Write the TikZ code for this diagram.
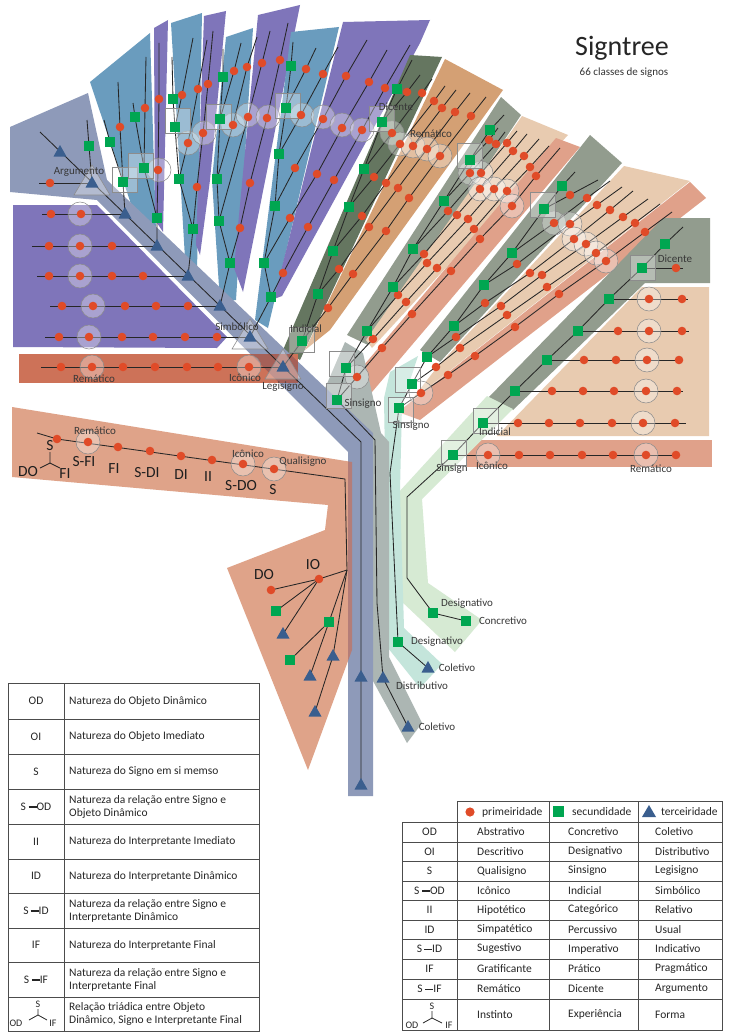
\documentclass[tikz,border=0pt]{standalone}
\usepackage{fontspec}
\setmainfont{Carlito}
\definecolor{cSlate}{RGB}{142,154,185}
\definecolor{cSteel}{RGB}{106,156,190}
\definecolor{cViolet}{RGB}{127,117,186}
\definecolor{cMoss}{RGB}{101,118,96}
\definecolor{cTan}{RGB}{212,160,116}
\definecolor{cSage}{RGB}{146,156,142}
\definecolor{cPeach}{RGB}{232,203,176}
\definecolor{cSalmon}{RGB}{224,161,138}
\definecolor{cRow}{RGB}{205,114,88}
\definecolor{cRowDark}{RGB}{165,96,88}
\definecolor{cClay}{RGB}{223,163,137}
\definecolor{cClayDark}{RGB}{180,125,120}
\definecolor{cMint}{RGB}{196,229,219}
\definecolor{cPale}{RGB}{214,234,211}
\definecolor{cAsh}{RGB}{172,182,179}
\definecolor{cDot}{RGB}{224,75,40}
\definecolor{cSq}{RGB}{0,166,81}
\definecolor{cTri}{RGB}{58,94,142}
\newcommand\mydash{\rule[2.6pt]{8pt}{1.3pt}}
\begin{document}
\begin{tikzpicture}[x=1pt,y=-1pt,
  ln/.style={line width=0.85pt,draw=black!85,line join=round},
  hc/.style={fill=white,fill opacity=0.33,draw=black!45,line width=0.55pt},
  lab/.style={font=\fontsize{11}{12}\selectfont,text=black!78,inner sep=0pt},
  big/.style={font=\fontsize{15.5}{16}\selectfont,text=black!88,inner sep=0pt},
  tt/.style={font=\fontsize{11.5}{13}\selectfont,text=black!85,inner sep=0pt,align=left,anchor=west},
  tc/.style={font=\fontsize{11.5}{13}\selectfont,text=black!85,inner sep=0pt},
  sm/.style={font=\fontsize{10}{10}\selectfont,text=black!85,inner sep=0pt},
  tab/.style={line width=0.9pt,draw=black!70}]
\useasboundingbox (0,0) rectangle (728,1033);
\fill[white] (0,0) rectangle (728,1033);

% ---------- coloured bands ----------
\fill[cClay] (12,407) -- (352,462) -- (352,650) -- (308,770) -- (227,568) -- (325,530) -- (328,505) -- (12,477) -- cycle;
\fill[cViolet] (13,205) -- (97,205) -- (227,337) -- (217,348) -- (13,347) -- cycle;
\fill[cSteel] (90,82) -- (150,33) -- (156,232) -- (132,207) -- cycle;
\fill[cViolet] (154,28) -- (168,20) -- (163,232) -- (155,220) -- cycle;
\fill[cSteel] (171,23) -- (202,13) -- (197,272) -- (186,275) -- cycle;
\fill[cViolet] (204,16) -- (226,11) -- (210,180) -- (200,255) -- (196,245) -- cycle;
\fill[cSteel] (226,37) -- (253,28) -- (236,300) -- (220,302) -- (212,180) -- cycle;
\fill[cViolet] (258,15) -- (300,5) -- (292,45) -- (243,292) -- (234,268) -- cycle;
\fill[cSteel] (291,32) -- (339,27) -- (268,328) -- (255,320) -- cycle;
\fill[cViolet] (343,22) -- (430,20) -- (420,43) -- (282,296) -- (274,299) -- cycle;
\fill[cMoss] (410,55) -- (442,57) -- (300,360) -- (283,350) -- cycle;
\fill[cTan] (445,59) -- (503,90) -- (330,330) -- (305,350) -- cycle;
\fill[cSage] (501,97) -- (521,115) -- (368,345) -- (347,335) -- cycle;
\fill[cPeach] (522,116) -- (568,135) -- (372,348) -- (366,340) -- cycle;
\fill[cSalmon] (556,138) -- (580,147) -- (372,392) -- (348,384) -- cycle;
\fill[cSage] (590,135) -- (622,163) -- (440,362) -- (420,350) -- cycle;
\fill[cPeach] (624,166) -- (690,181) -- (410,402) -- (438,366) -- cycle;
\fill[cSalmon] (690,182) -- (706,198) -- (420,420) -- (398,412) -- cycle;
\fill[cSage] (663,218) -- (710,218) -- (710,283) -- (645,283) -- (513,410) -- (488,398) -- cycle;
\fill[cPeach] (642,287) -- (709,287) -- (709,436) -- (497,436) -- cycle;
\fill[cSalmon] (467,440) rectangle (712,467);
\fill[cPale] (487,396) -- (513,409) -- (422,499) -- (428,583) -- (482,620) -- (455,652) -- (400,600) -- (398,493) -- cycle;
\fill[cMint] (384,398) -- (390,372) -- (418,356) -- (402,405) -- (400,490) -- (404,628) -- (442,664) -- (420,688) -- (388,648) -- cycle;
\fill[cAsh] (345,342) -- (363,353) -- (381,433) -- (389,442) -- (389,657) -- (422,723) -- (407,743) -- (373,681) -- (373,440) -- (323,393) -- cycle;
\fill[cSlate] (10,127) -- (88,93) -- (107,180) -- (373,433) -- (373,796) -- (348,796) -- (348,452) -- (97,200) -- (10,192) -- cycle;
\fill[cRow] (19,354) rectangle (298,383);
\begin{scope}
  \clip (10,127) -- (88,93) -- (107,180) -- (373,433) -- (373,796) -- (348,796) -- (348,452) -- (97,200) -- (10,192) -- cycle;
  \fill[cRowDark] (19,354) rectangle (298,383);
  \fill[cClayDark] (12,407) -- (352,462) -- (352,650) -- (308,770) -- (227,568) -- (325,530) -- (328,505) -- (12,477) -- cycle;
\end{scope}

% ---------- trunk and horizontal rows ----------
\draw[ln] (361,785) -- (361,442) -- (40,132);
\draw[ln] (39,183) -- (92,183);
\draw[ln] (42,214) -- (125,214);
\draw[ln] (32,246) -- (157,246);
\draw[ln] (37,276) -- (188,276);
\draw[ln] (50,306) -- (220,306);
\draw[ln] (45,337) -- (250,337);
\draw[ln] (41,367) -- (283,367);

% ---------- upper-left fans ----------
\draw[ln] (92,183) -- (89,146) -- (87,120);
\draw[ln] (125,214) -- (123,182) -- (110,142) -- (104,120);
\draw[ln] (123,182) -- (120,127) -- (118,82);
\draw[ln] (157,246) -- (157,218) -- (158,170) -- (159,99) -- (159,43);
\draw[ln] (157,218) -- (144,168) -- (145,108) -- (146,57);
\draw[ln] (144,168) -- (135,117) -- (133,103);
\draw[ln] (188,276) -- (193,229) -- (197,187) -- (203,133) -- (208,84) -- (213,31);
\draw[ln] (193,229) -- (179,179) -- (188,143) -- (198,89) -- (207,40);
\draw[ln] (179,179) -- (175,127) -- (173,99) -- (172,57);
\draw[ln] (175,127) -- (182,95) -- (193,38);
\draw[ln] (220,306) -- (230,263) -- (219,221) -- (217,179) -- (220,119) -- (223,77) -- (223,49);
\draw[ln] (230,263) -- (240,228) -- (250,183) -- (267,118) -- (280,60) -- (288,23);
\draw[ln] (219,221) -- (248,117) -- (262,63) -- (270,31);
\draw[ln] (217,179) -- (233,125) -- (247,67) -- (257,37);
\draw[ln] (220,119) -- (234,71) -- (241,43);
\draw[ln] (250,337) -- (271,297) -- (264,263) -- (275,206) -- (279,154) -- (286,108) -- (291,66) -- (293,42);
\draw[ln] (271,297) -- (283,273) -- (308,227) -- (334,180) -- (362,130) -- (385,88) -- (410,45);
\draw[ln] (264,263) -- (290,218) -- (317,174) -- (342,128) -- (369,82) -- (387,50);
\draw[ln] (275,206) -- (295,168) -- (323,119) -- (346,76) -- (367,40);
\draw[ln] (279,154) -- (301,115) -- (323,74) -- (338,47);
\draw[ln] (286,108) -- (306,69) -- (316,48);

% ---------- Indicial fan ----------
\draw[ln] (283,367) -- (302,341) -- (318,294) -- (333,251) -- (349,207) -- (364,169) -- (382,122) -- (397,89) -- (412,60);
\draw[ln] (302,341) -- (328,308) -- (353,274) -- (386,231) -- (409,198) -- (440,156) -- (471,116) -- (486,97);
\draw[ln] (318,294) -- (339,269) -- (369,227) -- (398,188) -- (427,149) -- (455,112) -- (470,93);
\draw[ln] (333,251) -- (362,216) -- (386,183) -- (413,146) -- (442,108) -- (456,90);
\draw[ln] (349,207) -- (374,177) -- (400,144) -- (434,101) -- (445,86);
\draw[ln] (364,169) -- (392,133) -- (422,93) -- (432,79);
\draw[ln] (382,122) -- (407,92) -- (420,75);

% ---------- first Sinsigno branch ----------
\draw[ln] (337,400) -- (375,440) -- (377,603) -- (383,678) -- (408,727);
\draw[ln] (337,400) -- (346,368) -- (367,331) -- (393,287) -- (413,249) -- (444,201) -- (470,160) -- (490,130) -- (504,115);
\draw[ln] (337,400) -- (357,377) -- (382,348) -- (412,314) -- (451,271) -- (480,239) -- (512,206) -- (536,176) -- (560,148);
\draw[ln] (346,368) -- (373,339) -- (406,302) -- (437,268) -- (474,229) -- (507,191) -- (530,167) -- (549,146);
\draw[ln] (367,331) -- (398,295) -- (427,263) -- (468,219) -- (494,189) -- (524,156) -- (539,139);
\draw[ln] (393,287) -- (424,254) -- (457,215) -- (480,189) -- (513,151) -- (527,134);
\draw[ln] (413,249) -- (448,211) -- (481,173) -- (507,143) -- (517,131);
\draw[ln] (444,201) -- (470,173) -- (496,144) -- (505,132);
\draw[ln] (470,160) -- (489,140) -- (498,128);

% ---------- second Sinsigno branch ----------
\draw[ln] (399,408) -- (390,473) -- (398,642) -- (428,668);
\draw[ln] (399,408) -- (412,384) -- (427,357) -- (454,326) -- (484,285) -- (512,253) -- (544,209) -- (562,186) -- (575,172);
\draw[ln] (399,408) -- (421,393) -- (448,375) -- (475,356) -- (515,327) -- (559,294) -- (606,261) -- (645,232) -- (672,212);
\draw[ln] (412,384) -- (436,367) -- (460,348) -- (507,315) -- (547,287) -- (596,253) -- (635,223) -- (660,204);
\draw[ln] (427,357) -- (456,337) -- (501,306) -- (542,275) -- (586,244) -- (623,217) -- (648,199);
\draw[ln] (454,326) -- (485,303) -- (530,273) -- (574,239) -- (610,210) -- (633,191);
\draw[ln] (484,285) -- (517,264) -- (570,224) -- (597,205) -- (622,187);
\draw[ln] (512,253) -- (554,223) -- (587,198) -- (610,181);
\draw[ln] (544,209) -- (570,195) -- (598,180);

% ---------- third Sinsigno branch ----------
\draw[ln] (453,455) -- (407,497) -- (407,578) -- (433,613) -- (466,621);
\draw[ln] (453,455) -- (483,423) -- (515,391) -- (547,360) -- (578,331) -- (609,299) -- (642,268) -- (665,244) -- (683,227);
\draw[ln] (453,455) -- (678,455);
\draw[ln] (483,423) -- (686,423);
\draw[ln] (515,391) -- (683,391);
\draw[ln] (547,360) -- (683,360);
\draw[ln] (578,331) -- (689,331);
\draw[ln] (609,299) -- (688,299);
\draw[ln] (642,268) -- (683,268);

% ---------- Qualisigno branch ----------
\draw[ln] (37,433) -- (57,439) -- (345,479) -- (347,570);
\draw[ln] (347,570) -- (319,579) -- (271,590);
\draw[ln] (319,579) -- (276,611);
\draw[ln] (319,579) -- (283,634);
\draw[ln] (347,570) -- (329,622) -- (290,660);
\draw[ln] (329,622) -- (310,676);
\draw[ln] (347,570) -- (333,656) -- (315,712);

% ---------- translucent highlights ----------
\foreach \x/\y in {80/214,80/246,80/276,93/306,89/337,92/367,249/367,
  159/170,188/143,204/133,233/125,248/115,268/117,302/115,323/117,342/125,362/130,
  392/133,400/144,413/146,427/149,440/156,
  470/173,481/173,480/189,494/189,507/191,512/206,357/377,
  554/223,570/224,574/239,586/244,596/253,606/261,421/393,
  488/455,646/455,643/423,646/391,647/360,649/331,649/299,
  88/442,243/464,274/469}
  \draw[hc] (\x,\y) circle (12pt);
\foreach \x/\y in {125/180,141/166,178/121,219/117,288/106,302/340,342/364,382/119,
  470/156,543/205,643/268,339/396,408/380,401/410,486/421,454/453}
  \draw[hc] (\x-12.5,\y-12.5) rectangle (\x+12.5,\y+12.5);
\foreach \x/\y in {92/183,250/337,283/367}
  \draw[hc] (\x,\y-18) -- (\x+18,\y+12) -- (\x-18,\y+12) -- cycle;

% ---------- markers: firstness ----------
\foreach \x/\y in {50/183,51/214,81/214,49/246,80/246,112/246,49/276,80/276,112/276,143/276,
  62/306,93/306,125/306,156/306,188/306,59/337,89/337,122/337,153/337,185/337,217/337,
  61/367,92/367,123/367,155/367,187/367,218/367,249/367,
  120/127,158/170,159/99,145/108,197/187,203/133,208/84,188/143,198/89,182/95,
  240/228,250/183,267/118,280/60,248/117,262/63,233/125,247/67,234/71,
  283/273,308/227,334/180,362/130,385/88,290/218,317/174,342/128,369/82,
  295/168,323/119,346/76,301/115,323/74,306/69,
  328/308,353/274,386/231,409/198,440/156,471/116,339/269,369/227,398/188,427/149,455/112,
  362/216,386/183,413/146,442/108,374/177,400/144,434/101,392/133,422/93,407/92,
  357/377,382/348,412/314,451/271,480/239,512/206,536/176,373/339,406/302,437/268,474/229,
  507/191,530/167,398/295,427/263,468/219,494/189,524/156,424/254,457/215,480/189,513/151,
  448/211,481/173,507/143,470/173,496/144,489/140,
  421/393,448/375,475/356,515/327,559/294,606/261,645/232,436/367,460/348,507/315,547/287,
  596/253,635/223,456/337,501/306,542/275,586/244,623/217,485/303,530/273,574/239,610/210,
  517/264,570/224,597/205,554/223,587/198,570/195,
  488/455,519/455,550/455,582/455,613/455,646/455,676/455,518/423,549/423,580/423,612/423,
  643/423,675/423,552/391,583/391,614/391,646/391,677/391,584/360,616/360,647/360,679/360,
  618/331,649/331,682/331,649/299,682/299,676/268,
  57/439,88/442,118/447,150/451,181/456,212/460,243/464,274/469,319/579,271/590}
  \fill[cDot] (\x,\y) circle (4.3pt);

% ---------- markers: secondness ----------
\foreach \x/\y in {89/146,123/182,110/142,157/218,144/168,135/117,193/229,179/179,175/127,173/99,
  230/263,219/221,217/179,220/119,223/77,271/297,264/263,275/206,279/154,286/108,291/66,
  302/341,318/294,333/251,349/207,364/169,382/122,397/89,
  337/400,346/368,367/331,393/287,413/249,444/201,470/160,490/130,
  399/408,398/642,412/384,427/357,454/326,484/285,512/253,544/209,562/186,
  453/455,483/423,515/391,547/360,578/331,609/299,642/268,665/244,433/613,466/621,
  276/611,329/622,290/660}
  \fill[cSq] (\x-5,\y-5) rectangle (\x+5,\y+5);

% ---------- markers: thirdness ----------
\foreach \x/\y in {60/152,92/183,125/214,157/246,188/276,220/306,250/337,283/367,
  361/677,361/785,383/678,408/727,428/668,283/634,310/676,333/656,315/712}
  \fill[cTri] (\x,\y-7) -- (\x+6.5,\y+4.5) -- (\x-6.5,\y+4.5) -- cycle;

% ---------- labels ----------
\node[lab] (lArg) at (79,172) {Argumento};
\node[lab] (lSimb) at (237,327) {Simbólico};
\node[lab] (lIco1) at (245,378) {Icônico};
\node[lab] (lRem1) at (94,379) {Remático};
\node[lab] (lLeg) at (283,387) {Legisigno};
\node[lab] (lInd1) at (306,329) {Indicial};
\node[lab] (lDic1) at (396,107) {Dicente};
\node[lab] (lRem2) at (431,134) {Remático};
\node[lab] (lSin1) at (363,404) {Sinsigno};
\node[lab] (lSin2) at (411,426) {Sinsigno};
\node[lab] (lDic2) at (675,259) {Dicente};
\node[lab] (lInd2) at (495,432) {Indicial};
\node[lab] (lSin3) at (452,469) {Sinsign};
\node[lab] (lIco2) at (492,466) {Icônico};
\node[lab] (lRem3) at (651,469) {Remático};
\node[lab] (lDes1) at (467,604) {Designativo};
\node[lab] (lCon) at (503,621) {Concretivo};
\node[lab] (lDes2) at (437,642) {Designativo};
\node[lab] (lCol1) at (457,668) {Coletivo};
\node[lab] (lDis) at (422,686) {Distributivo};
\node[lab] (lCol2) at (437,727) {Coletivo};
\node[lab] (lRem4) at (95,431) {Remático};
\node[lab] (lIco3) at (248,454) {Icônico};
\node[lab] (lQua) at (303,462) {Qualisigno};

\node[big] (bSFI) at (84,462) {S-FI};
\node[big] (bFI) at (114,469) {FI};
\node[big] (bSDI) at (147,473) {S-DI};
\node[big] (bDI) at (181,475) {DI};
\node[big] (bII) at (208,477) {II};
\node[big] (bSDO) at (241,486) {S-DO};
\node[big] (bS) at (273,490) {S};
\node[big] (bDO) at (264,575) {DO};
\node[big] (bIO) at (313,565) {IO};
\node[big] (yS) at (50,445.5) {S};
\node[big] (yDO) at (28,472) {DO};
\node[big] (yFI) at (65,474) {FI};
\draw[line width=0.9pt,black!85] (50,452) -- (50,463) -- (40,468);
\draw[line width=0.9pt,black!85] (50,463) -- (60,468);

\node[inner sep=0pt,text=black!85,font=\fontsize{28}{30}\selectfont] (title) at (622,48) {Signtree};
\node[inner sep=0pt,text=black!80,font=\fontsize{11}{12}\selectfont] (subtitle) at (624,73) {66 classes de signos};

% ---------- left table ----------
\draw[tab] (8,683) rectangle (259,1031);
\draw[tab] (64,683) -- (64,1031);
\foreach \y in {719,754,789,824,859,893,928,962,997} \draw[tab] (8,\y) -- (259,\y);
\node[tc] (k1) at (36,701) {OD};
\node[tc] (k2) at (36,736.5) {OI};
\node[tc] (k3) at (36,771.5) {S};
\node[tc] (k4) at (36,806.5) {S \mydash OD};
\node[tc] (k5) at (36,841.5) {II};
\node[tc] (k6) at (36,876) {ID};
\node[tc] (k7) at (36,910.5) {S\,\mydash ID};
\node[tc] (k8) at (36,945) {IF};
\node[tc] (k9) at (36,979.5) {S \mydash IF};
\node[sm] (kS) at (38,1004) {S};
\node[sm] (kOD) at (16,1023) {OD};
\node[sm] (kIF) at (53,1023) {IF};
\draw[line width=0.8pt,black!85] (38,1009) -- (38,1015) -- (29,1020);
\draw[line width=0.8pt,black!85] (38,1015) -- (47,1020);
\node[tt] (d1) at (69,701) {Natureza do Objeto Dinâmico};
\node[tt] (d2) at (69,736.5) {Natureza do Objeto Imediato};
\node[tt] (d3) at (69,771.5) {Natureza do Signo em si memso};
\node[tt] (d4) at (69,806.5) {Natureza da relação entre Signo e\\Objeto Dinâmico};
\node[tt] (d5) at (69,841.5) {Natureza do Interpretante Imediato};
\node[tt] (d6) at (69,876) {Natureza do Interpretante Dinâmico};
\node[tt] (d7) at (69,910.5) {Natureza da relação entre Signo e\\Interpretante Dinâmico};
\node[tt] (d8) at (69,945) {Natureza do Interpretante Final};
\node[tt] (d9) at (69,979.5) {Natureza da relação entre Signo e\\Interpretante Final};
\node[tt] (d10) at (69,1014) {Relação triádica entre Objeto\\Dinâmico, Signo e Interpretante Final};

% ---------- right table ----------
\draw[tab] (457,801) rectangle (722,822);
\draw[tab] (402,822) rectangle (722,1030);
\foreach \x in {457,549,638} \draw[tab] (\x,801) -- (\x,1030);
\foreach \y in {842,861,881,900,920,939,959,979,999} \draw[tab] (402,\y) -- (722,\y);
\fill[cDot] (470,812) circle (4.6pt);
\fill[cSq] (553,806) rectangle (564,817);
\fill[cTri] (649,805) -- (656,817) -- (642,817) -- cycle;
\node[tt] (h1) at (482,812) {primeiridade};
\node[tt] (h2) at (572,812) {secundidade};
\node[tt] (h3) at (661,812) {terceiridade};
\node[tc] (r1) at (429.5,832) {OD};
\node[tc] (r2) at (429.5,851.5) {OI};
\node[tc] (r3) at (429.5,871) {S};
\node[tc] (r4) at (429.5,890.5) {S \mydash OD};
\node[tc] (r5) at (429.5,910) {II};
\node[tc] (r6) at (429.5,929.5) {ID};
\node[tc] (r7) at (429.5,949) {S\,\mydash ID};
\node[tc] (r8) at (429.5,969) {IF};
\node[tc] (r9) at (429.5,989) {S \mydash IF};
\node[sm] (rS) at (432,1006) {S};
\node[sm] (rOD) at (412,1025) {OD};
\node[sm] (rIF) at (449,1025) {IF};
\draw[line width=0.8pt,black!85] (432,1011) -- (432,1018) -- (423,1023);
\draw[line width=0.8pt,black!85] (432,1018) -- (442,1023);
\foreach \t/\a/\b/\c [count=\i] in {832/Abstrativo/Concretivo/Coletivo,
  851.5/Descritivo/Designativo/Distributivo,
  871/Qualisigno/Sinsigno/Legisigno,
  890.5/Icônico/Indicial/Simbólico,
  910/Hipotético/Categórico/Relativo,
  929.5/Simpatético/Percussivo/Usual,
  949/Sugestivo/Imperativo/Indicativo,
  969/Gratificante/Prático/Pragmático,
  989/Remático/Dicente/Argumento,
  1014.5/Instinto/Experiência/Forma}
{
  \node[tt] (ca\i) at (477,\t) {\a};
  \node[tt] (cb\i) at (568,\t) {\b};
  \node[tt] (cc\i) at (655,\t) {\c};
}
\end{tikzpicture}
\end{document}
